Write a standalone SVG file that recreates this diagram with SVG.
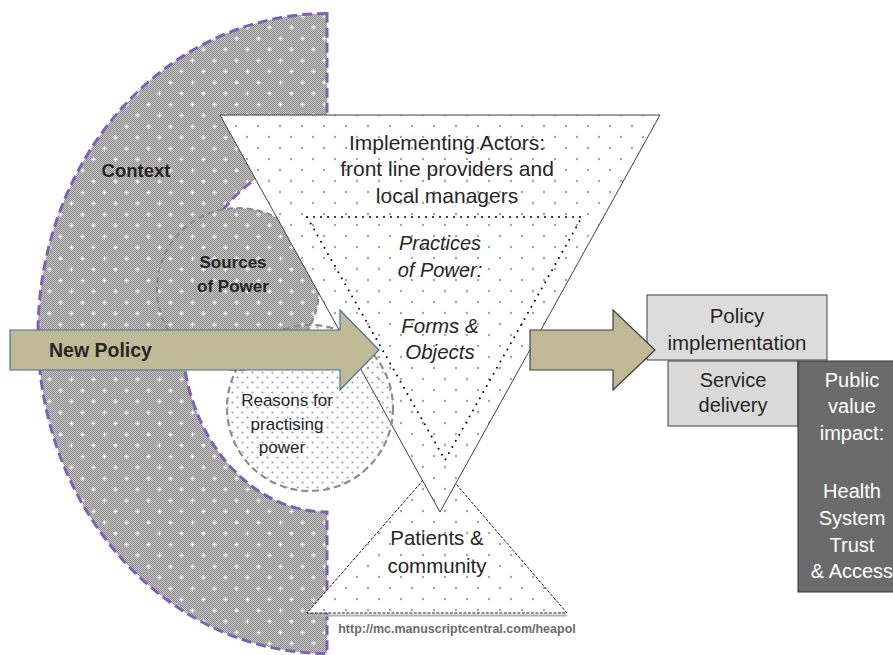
<svg xmlns="http://www.w3.org/2000/svg" width="893" height="655" viewBox="0 0 893 655">
<defs>
<pattern id="chk" width="2" height="2" patternUnits="userSpaceOnUse"><rect width="2" height="2" fill="#c4c4c4"/><rect width="1" height="1" fill="#8e8e8e"/><rect x="1" y="1" width="1" height="1" fill="#8e8e8e"/></pattern>
<pattern id="ringPat" width="22" height="22" patternUnits="userSpaceOnUse"><rect width="22" height="22" fill="url(#chk)"/><path d="M3.5,5.5h4M5.5,3.5v4M14.5,16.5h4M16.5,14.5v4" stroke="#fff" stroke-width="1.3"/></pattern>
<pattern id="dots" width="22" height="22" patternUnits="userSpaceOnUse"><circle cx="5" cy="5" r="1.2" fill="#a4a4a4"/><circle cx="16" cy="16" r="1.2" fill="#a4a4a4"/></pattern>
<pattern id="dots2" width="10" height="10" patternUnits="userSpaceOnUse"><circle cx="2.5" cy="2.5" r="1.1" fill="#a0a0a0"/><circle cx="7.5" cy="7.5" r="1.1" fill="#a0a0a0"/></pattern>
</defs>
<style>
.t{font-family:"Liberation Sans",Arial,sans-serif;fill:#262626;text-anchor:middle}
.b{font-weight:bold}
.i{font-style:italic}
.w{fill:#ffffff}
.box{stroke:#404040;stroke-width:1}
.arrow{fill:#c0b995;stroke-width:1.2}
</style>
<rect width="893" height="655" fill="#ffffff"/>

<g id="context">
<path d="M327,13.5 A289,320 0 0 0 327,653.5 L327,512 A145,178 0 0 1 327,156 Z" fill="url(#ringPat)"/>
<path d="M327,13.5 A289,320 0 0 0 327,653.5 L327,512 A145,178 0 0 1 327,156 Z" fill="none" stroke="#8062b4" stroke-width="3" stroke-dasharray="10 5"/>
<text class="t b" x="136" y="177" font-size="18.5">Context</text>
</g>

<g id="sources">
<circle cx="238" cy="289" r="81" fill="url(#ringPat)" stroke="#8a8a8a" stroke-width="2" stroke-dasharray="6 4"/>
<text class="t b" x="233" y="268" font-size="17">Sources</text>
<text class="t b" x="233" y="292" font-size="17">of Power</text>
</g>

<g id="patients">
<line x1="309" y1="615.5" x2="567" y2="615.5" stroke="#b0b0b0" stroke-width="2"/>
<polygon points="438,463 307,613 567,613" fill="#ffffff"/>
<polygon points="438,463 307,613 567,613" fill="url(#dots)" stroke="#1a1a1a" stroke-width="1" stroke-dasharray="3 1.5"/>
<text class="t" x="437" y="545" font-size="20.5">Patients &amp;</text>
<text class="t" x="437" y="573" font-size="20.5">community</text>
</g>

<g id="actors">
<polygon points="220,115 660,115 440,512" fill="#ffffff"/>
<polygon points="220,115 660,115 440,512" fill="url(#dots)" stroke="#404040" stroke-width="1"/>
<text class="t" x="447" y="150" font-size="21">Implementing Actors:</text>
<text class="t" x="447" y="176" font-size="21">front line providers and</text>
<text class="t" x="447" y="203" font-size="21">local managers</text>
</g>

<g id="practices">
<polygon points="307,217 582,217 445,460" fill="none" stroke="#000" stroke-width="2" stroke-linecap="round" stroke-dasharray="0 7"/>
<text class="t i" x="440" y="250" font-size="20">Practices</text>
<text class="t i" x="440" y="277" font-size="20">of Power:</text>
<text class="t i" x="440" y="333" font-size="20.5">Forms &amp;</text>
<text class="t i" x="440" y="359" font-size="20.5">Objects</text>
</g>

<g id="reasons">
<circle cx="310" cy="408" r="83" fill="url(#dots2)" stroke="#8c8c8c" stroke-width="2.2" stroke-dasharray="7 4"/>
<text class="t" x="287" y="406" font-size="17">Reasons for</text>
<text class="t" x="287" y="430" font-size="17">practising</text>
<text class="t" x="282" y="453" font-size="17">power</text>
</g>

<g id="service">
<rect class="box" x="668" y="361" width="130" height="65" fill="#d9d9d9"/>
<text class="t" x="733" y="387" font-size="20">Service</text>
<text class="t" x="733" y="412" font-size="20">delivery</text>
</g>

<g id="public">
<rect x="798" y="361" width="108" height="231" fill="#6b6b6b" stroke="#333" stroke-width="1"/>
<text class="t w" x="852" y="387" font-size="20">Public</text>
<text class="t w" x="852" y="413" font-size="20">value</text>
<text class="t w" x="852" y="440" font-size="20">impact:</text>
<text class="t w" x="852" y="498" font-size="20">Health</text>
<text class="t w" x="852" y="525" font-size="20">System</text>
<text class="t w" x="852" y="552" font-size="20">Trust</text>
<text class="t w" x="852" y="578" font-size="20">&amp; Access</text>
</g>

<g id="policyimpl">
<rect class="box" x="647" y="295" width="180" height="65" fill="#dcdcdc"/>
<text class="t" x="737" y="323" font-size="20.5">Policy</text>
<text class="t" x="737" y="350" font-size="20.5">implementation</text>
</g>

<g id="connectors">
<g id="newpolicy">
<polygon class="arrow" points="10,330 340,330 340,310 379,350 340,390 340,370 10,370" stroke="#41719c"/>
<text class="t b" x="49" y="357" font-size="19.5" style="text-anchor:start" fill="#1a1a1a">New Policy</text>
</g>
<polygon class="arrow" points="530,330 613,330 613,310 655,350 613,390 613,370 530,370" stroke="#3f3f3f"/>
</g>

<text x="457" y="633" font-family="Liberation Sans, Arial, sans-serif" font-weight="bold" font-size="12.5" fill="#6b6b6b" text-anchor="middle">http://mc.manuscriptcentral.com/heapol</text>
</svg>
